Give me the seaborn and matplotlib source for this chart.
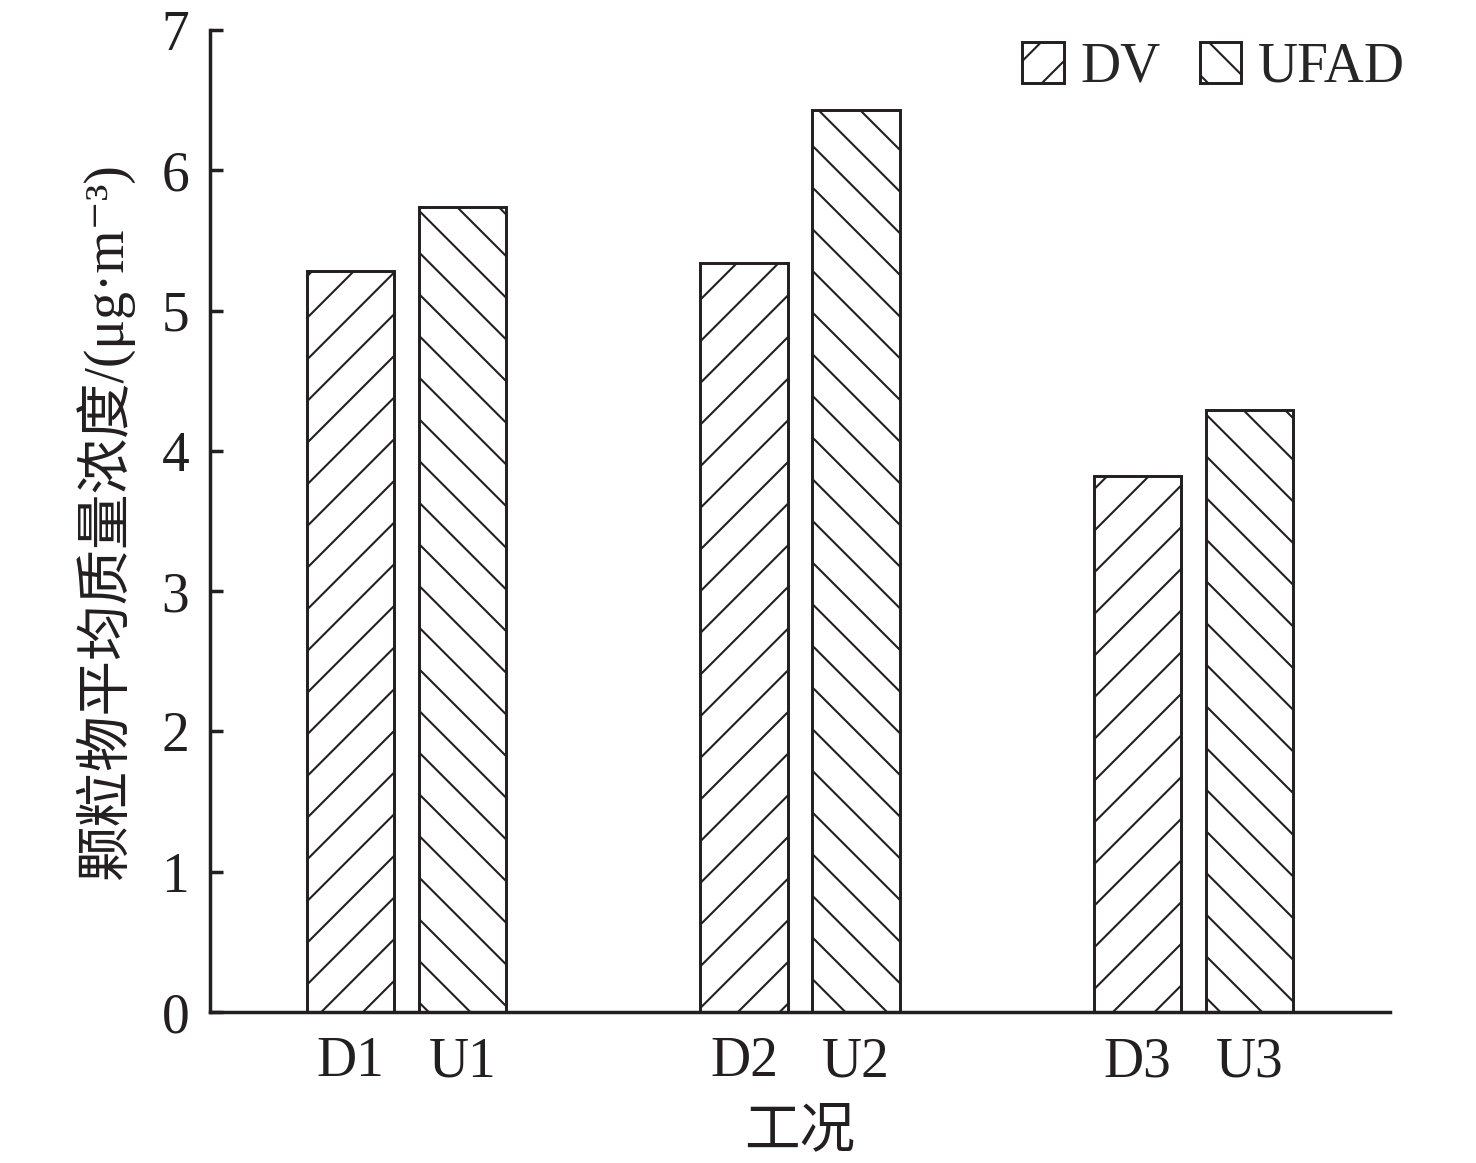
import pandas as pd
import matplotlib
matplotlib.use("Agg")
import matplotlib.pyplot as plt
import seaborn as sns

# data
groups = ['1', '2', '3']
types = ['DV', 'UFAD']
dv_values = [5.28, 5.34, 3.82]
ufad_values = [5.74, 6.43, 4.29]
tick_labels = ['D1', 'U1', 'D2', 'U2', 'D3', 'U3']

df = pd.DataFrame({
    'group': groups * 2,
    'type': ['DV'] * 3 + ['UFAD'] * 3,
    'value': dv_values + ufad_values,
})

sns.set_style("ticks")
plt.rcParams['font.family'] = ['Liberation Serif', 'Noto Sans CJK SC', 'DejaVu Sans']
plt.rcParams['hatch.linewidth'] = 0.6
plt.rcParams['hatch.color'] = '#231f20'

ink = '#231f20'
fig = plt.figure(figsize=(5.904, 4.652), dpi=250)
ax = fig.add_axes([0.1423, 0.1298, 0.7994, 0.8444])

sns.barplot(data=df, x='group', y='value', hue='type', hue_order=types,
            palette=['white', 'white'], edgecolor=ink, linewidth=0.85,
            width=0.57, gap=0.22, saturation=1, ax=ax)

hatches = ['//', '\\\\']
for cont, h in zip(ax.containers, hatches):
    for p in cont.patches:
        p.set_hatch(h)

centers = sorted(p.get_x() + p.get_width() / 2 for c in ax.containers for p in c.patches)
ax.set_xticks(centers)
ax.set_xticklabels(tick_labels)
ax.set_xlim(-0.5, 2.5)
ax.set_ylim(0, 7)
ax.set_yticks(range(8))

ax.legend(ax.containers, types, loc='upper right', bbox_to_anchor=(1.041, 1.022),
          ncol=2, frameon=False, fontsize=16, handlelength=0.75, handleheight=0.75,
          handletextpad=0.3, columnspacing=0.7, borderaxespad=0.2)

sns.despine(ax=ax)
for s in ['left', 'bottom']:
    ax.spines[s].set_linewidth(1.0)
    ax.spines[s].set_color(ink)
ax.tick_params(axis='y', direction='in', length=3.7, width=1.0, pad=6,
               labelsize=16, colors=ink)
ax.tick_params(axis='x', length=0, pad=7, labelsize=16, colors=ink)

ax.set_xlabel('工况', fontsize=16, color=ink, labelpad=5)
ax.set_ylabel('颗粒物平均质量浓度/(μg·m⁻³)', fontsize=16, color=ink, labelpad=8)

fig.savefig('out.png', dpi=250)
